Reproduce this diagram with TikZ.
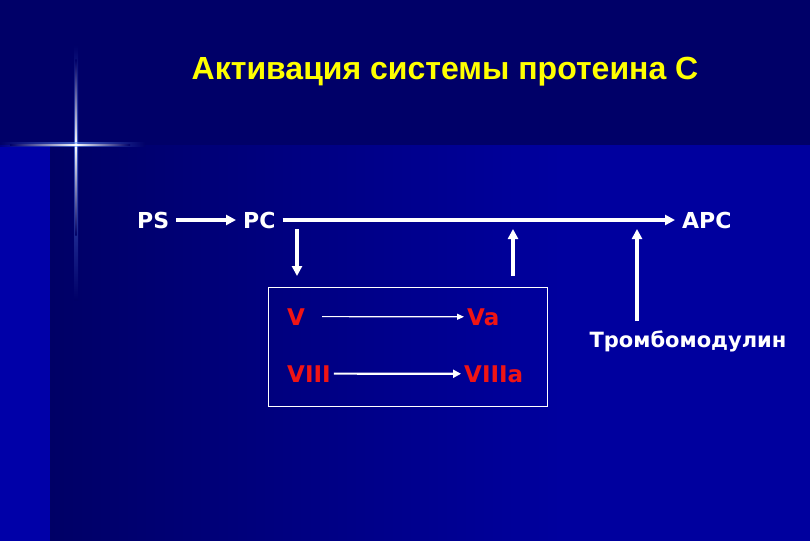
\documentclass[tikz,border=0pt]{standalone}
\usepackage{fontspec}
\usetikzlibrary{arrows.meta}
\newfontfamily\titlefont{Liberation Sans}
\newfontfamily\dvfont{DejaVu Sans}
\definecolor{navytop}{HTML}{000068}
\definecolor{navydark}{HTML}{000066}
\definecolor{bluelow}{HTML}{00009E}
\definecolor{bluestrip}{HTML}{0000A8}
\definecolor{glow}{HTML}{6E9CFF}
\definecolor{titleyellow}{HTML}{FFFF00}
\definecolor{factorred}{HTML}{F01414}
\tikzset{
  lbl/.style={text=white, font=\dvfont\bfseries\fontsize{22}{26}\selectfont, inner xsep=7pt, inner ysep=0pt, anchor=base west},
  factor/.style={text=factorred, font=\dvfont\bfseries\fontsize{23}{27}\selectfont, inner xsep=3pt, inner ysep=0pt, anchor=base west},
  bigarrow/.style={draw=white, line width=4pt, -{Triangle[length=10pt,width=10pt]}},
  thinarrow/.style={draw=white, line width=1.2pt, -{Triangle[length=7pt,width=6pt]}},
  midarrow/.style={draw=white, line width=2.2pt, -{Triangle[length=8pt,width=8pt]}},
  framebox/.style={draw=white, line width=1pt, minimum width=279pt, minimum height=119pt, inner sep=0pt}
}
\begin{document}
\begin{tikzpicture}[x=1pt, y=-1pt]
\useasboundingbox (0,0) rectangle (810,540);
% background
\fill[bluelow] (-2,-2) rectangle (812,542);
\fill[bluestrip] (-2,144) rectangle (51,542);
\shade[left color=navydark, right color=bluelow] (50,144) rectangle (561,542);
\fill[navytop] (-2,-2) rectangle (812,145);
% glow cross
\shade[top color=navytop, bottom color=glow, opacity=0.6] (74,45) rectangle (78,145);
\shade[top color=glow, bottom color=navydark, opacity=0.6] (74,145) rectangle (78,300);
\shade[top color=navytop, bottom color=white] (75.3,60) rectangle (76.7,145.5);
\shade[top color=white, bottom color=navydark] (75.3,144.5) rectangle (76.7,235);
\shade[left color=navytop, right color=glow, opacity=0.6] (0,143) rectangle (76,147);
\shade[left color=glow, right color=navytop, opacity=0.6] (76,143) rectangle (145,147);
\shade[left color=navytop, right color=white] (10,144.3) rectangle (76.5,145.7);
\shade[left color=white, right color=navytop] (75.5,144.3) rectangle (130,145.7);
\fill[white] (76,145) circle (1.5pt);
% title
\node[text=titleyellow, font=\titlefont\bfseries\fontsize{32}{38}\selectfont, anchor=base] (title) at (445,80) {Активация системы протеина С};
% main nodes
\node[lbl] (ps) at (130,228) {PS};
\node[lbl] (pc) at (236,228) {PC};
\node[lbl] (apc) at (675,228) {APC};
\node[framebox] (box) at (407.5,346.5) {};
\node[factor] (v) at (284,325) {V};
\node[factor] (va) at (464,325) {Va};
\node[factor] (viii) at (284,382) {VIII};
\node[factor] (viiia) at (461,382) {VIIIa};
\node[text=white, font=\dvfont\bfseries\fontsize{21}{25}\selectfont, inner sep=0pt, anchor=base] (tm) at (688,347) {Тромбомодулин};
% coordinates
\coordinate (downtop) at (297,229);
\coordinate (downbot) at (297,276);
\coordinate (upbot) at (513,276);
\coordinate (uptop) at (513,229);
\coordinate (tmbot) at (637,321);
\coordinate (tmtop) at (637,229);
\path (v.east) ++(14,0) coordinate (vstart);
% arrows
\draw[bigarrow] (ps.east) -- (pc.west);
\draw[bigarrow] (pc.east) -- (apc.west);
\draw[bigarrow] (downtop) -- (downbot);
\draw[bigarrow] (upbot) -- (uptop);
\draw[bigarrow] (tmbot) -- (tmtop);
\draw[thinarrow] (vstart) -- (va.west);
\draw[midarrow] (viii.east) -- (viiia.west);
\end{tikzpicture}
\end{document}
